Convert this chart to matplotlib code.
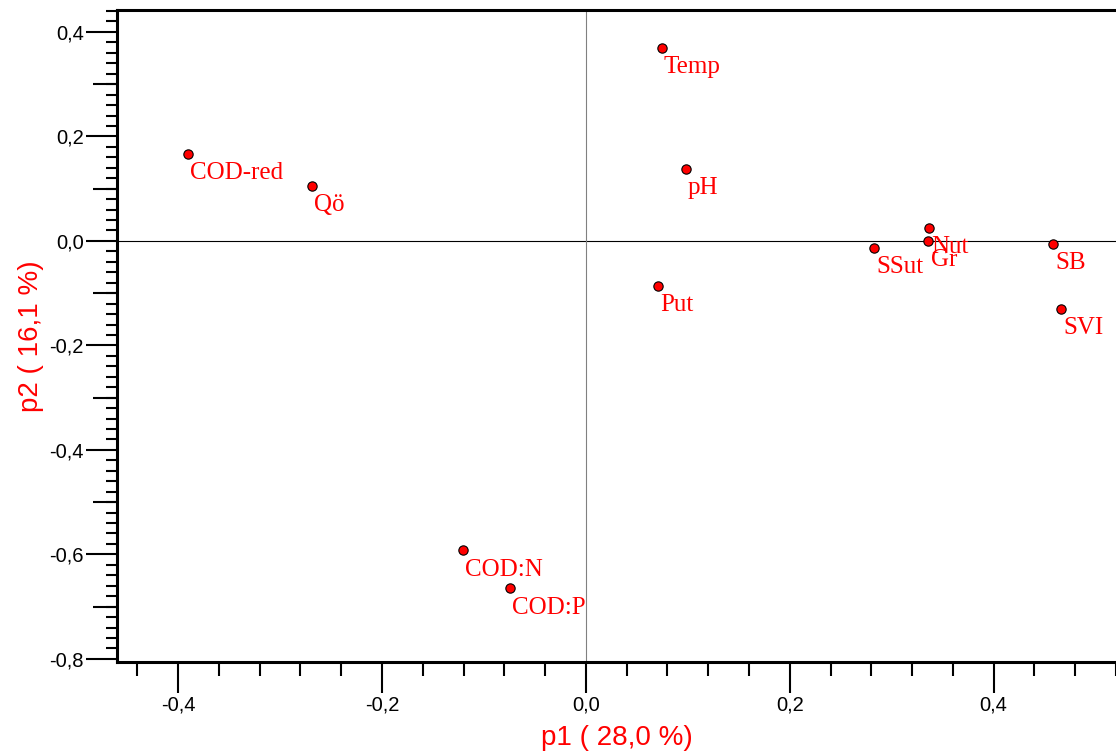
import matplotlib
matplotlib.use("Agg")
import matplotlib.pyplot as plt
from matplotlib.ticker import MultipleLocator, FuncFormatter, FixedLocator

# loadings (p1, p2)
names = ["Temp", "COD-red", "Qö", "pH", "Nut", "Gr", "SSut", "SB", "SVI", "Put", "COD:N", "COD:P"]
p1 = [0.0745, -0.390, -0.269, 0.098, 0.337, 0.336, 0.283, 0.458, 0.466, 0.0706, -0.121, -0.0745]
p2 = [0.370, 0.167, 0.105, 0.138, 0.025, 0.000, -0.013, -0.006, -0.130, -0.086, -0.592, -0.665]

plt.rcParams["font.family"] = ["Liberation Sans", "DejaVu Sans"]

fig = plt.figure(figsize=(11.16, 7.53), dpi=100)
ax = fig.add_axes([117 / 1116, 91 / 753, 1 - 117 / 1116, 652 / 753])

ax.axhline(0, color="black", lw=0.8, zorder=1)
ax.axvline(0, color="#808080", lw=0.8, zorder=1)

ax.scatter(p1, p2, s=45, c="red", edgecolors="black", linewidths=0.8, zorder=3)
for n, x, y in zip(names, p1, p2):
    ax.annotate(n, (x, y), xytext=(1.5, -6), textcoords="offset points",
                ha="left", va="top", color="red", fontsize=18,
                family=["Liberation Serif", "DejaVu Serif"], zorder=4)

ax.set_xlim(-0.46, 0.52)
ax.set_ylim(-0.806, 0.442)

fmt = FuncFormatter(lambda v, pos: ("%.1f" % v).replace(".", ",").replace("-0,0", "0,0"))
ax.xaxis.set_major_locator(MultipleLocator(0.2))
ax.xaxis.set_minor_locator(MultipleLocator(0.04))
ax.yaxis.set_major_locator(MultipleLocator(0.2))
ax.yaxis.set_minor_locator(MultipleLocator(0.02))
ax.xaxis.set_major_formatter(fmt)
ax.yaxis.set_major_formatter(fmt)

ax.tick_params(axis="both", which="major", length=22, width=1.5, labelsize=14.5, pad=2)
ax.tick_params(axis="x", which="minor", length=10, width=1.5)
ax.tick_params(axis="y", which="minor", length=8, width=1.5)

# medium ticks at odd tenths on y
sec = ax.secondary_yaxis("left")
sec.yaxis.set_major_locator(FixedLocator([-0.7, -0.5, -0.3, -0.1, 0.1, 0.3]))
sec.tick_params(length=17, width=1.5, labelleft=False)
sec.spines["left"].set_visible(False)

for s in ["left", "bottom", "top"]:
    ax.spines[s].set_linewidth(2.2)
ax.spines["right"].set_visible(False)

ax.set_xlabel("p1 ( 28,0 %)", color="red", fontsize=20, labelpad=8)
ax.set_ylabel("p2 ( 16,1 %)", color="red", fontsize=20, labelpad=4)

fig.savefig("out.png", dpi=100)
